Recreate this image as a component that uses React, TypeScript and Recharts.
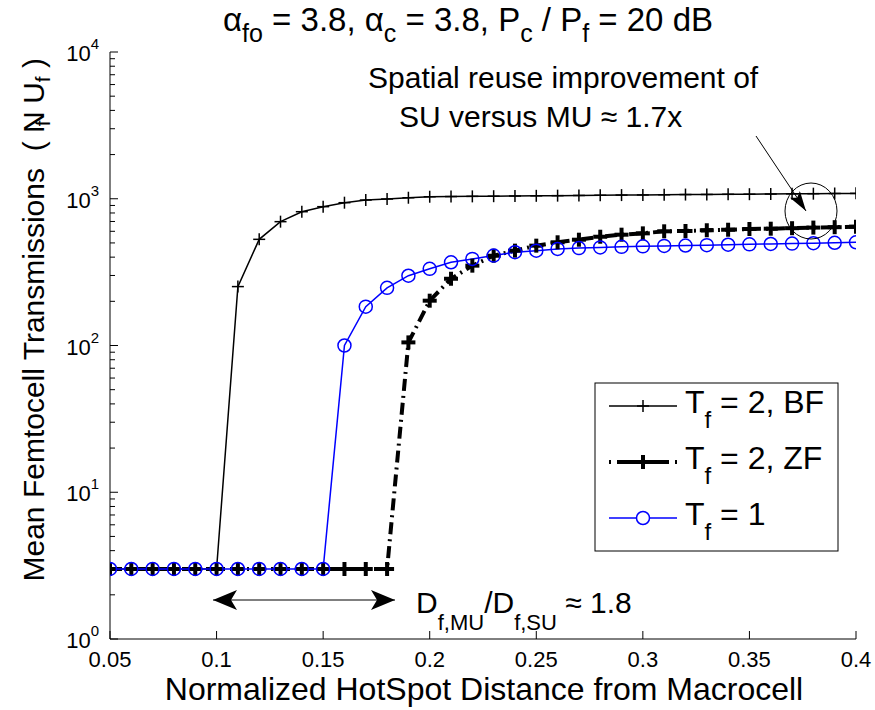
import { LineChart, Line, XAxis, YAxis } from 'recharts';

const FONT = '"Liberation Sans", Arial, Helvetica, sans-serif';

// normalized hotspot distance
const distance = [
  0.05, 0.06, 0.07, 0.08, 0.09, 0.1, 0.11, 0.12, 0.13, 0.14, 0.15, 0.16,
  0.17, 0.18, 0.19, 0.2, 0.21, 0.22, 0.23, 0.24, 0.25, 0.26, 0.27, 0.28,
  0.29, 0.3, 0.31, 0.32, 0.33, 0.34, 0.35, 0.36, 0.37, 0.38, 0.39, 0.4,
];

// Tf = 2, BF
const bfValues = [
  3, 3, 3, 3, 3, 3, 252, 529, 698, 816, 883, 940, 980, 996, 1016, 1032,
  1035, 1038, 1041, 1044, 1047, 1050, 1053, 1056, 1059, 1062, 1065, 1068,
  1070, 1072, 1074, 1077, 1080, 1083, 1086, 1088,
];

// Tf = 2, ZF
const zfValues = [
  3, 3, 3, 3, 3, 3, 3, 3, 3, 3, 3, 3, 3, 3, 105, 202, 285, 350, 409, 443,
  479, 505, 526, 551, 569, 581, 600, 603, 610, 615, 622, 625, 630, 636, 640, 645,
];

// Tf = 1
const suValues = [
  3, 3, 3, 3, 3, 3, 3, 3, 3, 3, 3, 100, 184, 247, 299, 333, 369, 389, 410,
  432, 443, 455, 461, 466, 470, 474, 477, 480, 483, 486, 489, 492, 495, 498,
  501, 505,
];

const xTicks = [0.05, 0.1, 0.15, 0.2, 0.25, 0.3, 0.35, 0.4];
const yDecades = [1, 10, 100, 1000, 10000];
const yMinorSteps = [2, 3, 4, 5, 6, 7, 8, 9];

const yTicks: number[] = [];
yDecades.forEach((d, i) => {
  yTicks.push(d);
  if (i < yDecades.length - 1) yMinorSteps.forEach((m) => yTicks.push(m * d));
});

const data = distance.map((x, i) => ({
  x,
  bf: bfValues[i],
  zf: zfValues[i],
  su: suValues[i],
}));

const Y_GAP = 11;
const X_GAP = 29;
const NB = '\u00a0';

function LeftTick(props: any) {
  const { x, y, payload } = props;
  const axisX = x + Y_GAP;
  const major = yDecades.includes(payload.value);
  const exp = Math.round(Math.log10(payload.value));
  return (
    <g>
      <line x1={axisX} x2={axisX + (major ? 8 : 5)} y1={y} y2={y} stroke="#000" />
      {major && (
        <text x={x} y={y + 9} textAnchor="end" fontSize={22} fontFamily={FONT} fill="#000">
          10<tspan dy={-12} fontSize={15}>{exp}</tspan>
        </text>
      )}
    </g>
  );
}

function RightTick(props: any) {
  const { x, y, payload } = props;
  const major = yDecades.includes(payload.value);
  return <line x1={x} x2={x - (major ? 8 : 5)} y1={y} y2={y} stroke="#000" />;
}

function BottomTick(props: any) {
  const { x, y, payload } = props;
  const axisY = y - X_GAP;
  return (
    <g>
      <line x1={x} x2={x} y1={axisY} y2={axisY - 8} stroke="#000" />
      <text x={x} y={y - 1} textAnchor="middle" fontSize={22} fontFamily={FONT} fill="#000">
        {String(payload.value)}
      </text>
    </g>
  );
}

function TopTick(props: any) {
  const { x, y } = props;
  return <line x1={x} x2={x} y1={y} y2={y + 8} stroke="#000" />;
}

function plusDot(size: number, width: number, name: string) {
  return (p: any) => {
    if (p.cx == null || p.cy == null) return <g key={`${name}-${p.index}`} />;
    return (
      <g key={`${name}-${p.index}`}>
        <line x1={p.cx - size} x2={p.cx + size} y1={p.cy} y2={p.cy} stroke="#000" strokeWidth={width} />
        <line x1={p.cx} x2={p.cx} y1={p.cy - size} y2={p.cy + size} stroke="#000" strokeWidth={width} />
      </g>
    );
  };
}

function circleDot(p: any) {
  if (p.cx == null || p.cy == null) return <g key={`su-${p.index}`} />;
  return <circle key={`su-${p.index}`} cx={p.cx} cy={p.cy} r={6.5} fill="none" stroke="#0000ff" strokeWidth={1.5} />;
}

function Sub({ children, drop = 14, size = 22 }: { children: string; drop?: number; size?: number }) {
  return (
    <>
      <tspan dy={drop} fontSize={size}>{children}</tspan>
      <tspan dy={-drop}>{'\u200b'}</tspan>
    </>
  );
}

function Overlay() {
  const rows = [
    { y: 406, label: `${NB}=${NB}2,${NB}BF` },
    { y: 462, label: `${NB}=${NB}2,${NB}ZF` },
    { y: 518, label: `${NB}=${NB}1` },
  ];
  return (
    <svg width={875} height={710} style={{ position: 'absolute', left: 0, top: 0, pointerEvents: 'none' }}>
      <defs>
        <marker id="head2" markerWidth="24" markerHeight="20" refX="24" refY="10" orient="auto-start-reverse" markerUnits="userSpaceOnUse" viewBox="0 0 24 20">
          <path d="M0,0 L24,10 L0,20 L6,10 Z" fill="#000" />
        </marker>
        <marker id="head3" markerWidth="20" markerHeight="12" refX="20" refY="6" orient="auto" markerUnits="userSpaceOnUse" viewBox="0 0 20 12">
          <path d="M0,0 L20,6 L0,12 L4,6 Z" fill="#000" />
        </marker>
      </defs>
      <g fontFamily={FONT} fill="#000">
        <text x={468} y={31} textAnchor="middle" fontSize={33}>
          {'\u03b1'}<Sub drop={11} size={25}>fo</Sub>{`${NB}=${NB}3.8,${NB}\u03b1`}<Sub drop={11} size={25}>c</Sub>
          {`${NB}=${NB}3.8,${NB}P`}<Sub drop={11} size={25}>c</Sub>{`${NB}/${NB}P`}<Sub drop={11} size={25}>f</Sub>
          {`${NB}=${NB}20${NB}dB`}
        </text>
        <text x={484} y={700} textAnchor="middle" fontSize={32}>
          Normalized HotSpot Distance from Macrocell
        </text>
        <text x={44} y={58} textAnchor="end" fontSize={30} transform="rotate(-90 44 58)">
          {`Mean Femtocell Transmissions${NB}${NB}(${NB}N`}
          <tspan dx={-15} dy={6} fontSize={21}>f</tspan>
          <tspan dy={-6}>{`${NB}${NB}U`}</tspan>
          <tspan dy={6} fontSize={21}>f</tspan>
          <tspan dy={-6}>{`${NB})`}</tspan>
        </text>
        <text x={368} y={88} fontSize={30}>Spatial reuse improvement of</text>
        <text x={399} y={127} fontSize={30}>{'SU versus MU \u2248 1.7x'}</text>
        <text x={416} y={613} fontSize={30}>
          D<Sub drop={17}>f,MU</Sub>{'/D'}<Sub drop={17}>f,SU</Sub>{`${NB}\u2248${NB}1.8`}
        </text>
      </g>
      <line x1={756} y1={136} x2={806} y2={211} stroke="#000" strokeWidth={1} markerEnd="url(#head3)" />
      <ellipse cx={811} cy={211} rx={26} ry={28} fill="none" stroke="#000" strokeWidth={1} />
      <line x1={213} y1={600} x2={395} y2={600} stroke="#000" strokeWidth={1} markerStart="url(#head2)" markerEnd="url(#head2)" />

      <rect x={595} y={383} width={243} height={168} fill="#fff" stroke="#000" strokeWidth={1} />
      <line x1={609} x2={677} y1={rows[0].y} y2={rows[0].y} stroke="#000" strokeWidth={1.5} />
      {plusDot(6, 1.5, 'lg1')({ cx: 643, cy: rows[0].y, index: 0 })}
      <line x1={609} x2={677} y1={rows[1].y} y2={rows[1].y} stroke="#000" strokeWidth={4} strokeDasharray="2 6 52 6 2" />
      {plusDot(7, 4, 'lg2')({ cx: 643, cy: rows[1].y, index: 0 })}
      <line x1={609} x2={677} y1={rows[2].y} y2={rows[2].y} stroke="#0000ff" strokeWidth={1.5} />
      <circle cx={643} cy={rows[2].y} r={6.5} fill="#fff" stroke="#0000ff" strokeWidth={1.5} />
      <g fontFamily={FONT} fill="#000" fontSize={32}>
        {rows.map((r) => (
          <text key={r.label} x={685} y={r.y + 7}>
            T<Sub drop={15} size={24}>f</Sub>{r.label}
          </text>
        ))}
      </g>
    </svg>
  );
}

export default function App() {
  return (
    <div style={{ position: 'absolute', left: 0, top: 0, width: 875, height: 710, background: '#fff' }}>
      <LineChart width={875} height={710} data={data} margin={{ top: 52, right: 19, bottom: 31, left: 10 }}>
        <XAxis
          dataKey="x"
          type="number"
          domain={[0.05, 0.4]}
          ticks={xTicks}
          interval={0}
          height={40}
          tickSize={0}
          tickMargin={X_GAP}
          tick={<BottomTick />}
          axisLine={{ stroke: '#000' }}
          allowDataOverflow
        />
        <XAxis
          xAxisId="top"
          orientation="top"
          type="number"
          domain={[0.05, 0.4]}
          ticks={xTicks}
          interval={0}
          height={0}
          tickSize={0}
          tickMargin={0}
          tick={<TopTick />}
          axisLine={{ stroke: '#000' }}
          allowDataOverflow
        />
        <YAxis
          scale="log"
          type="number"
          domain={[1, 10000]}
          ticks={yTicks}
          interval={0}
          width={100}
          tickSize={0}
          tickMargin={Y_GAP}
          tick={<LeftTick />}
          axisLine={{ stroke: '#000' }}
          allowDataOverflow
        />
        <YAxis
          yAxisId="right"
          orientation="right"
          scale="log"
          type="number"
          domain={[1, 10000]}
          ticks={yTicks}
          interval={0}
          width={0}
          tickSize={0}
          tickMargin={0}
          tick={<RightTick />}
          axisLine={{ stroke: '#000' }}
          allowDataOverflow
        />
        <Line
          type="linear"
          dataKey="bf"
          stroke="#000"
          strokeWidth={1.5}
          dot={plusDot(6, 1.5, 'bf')}
          isAnimationActive={false}
        />
        <Line
          type="linear"
          dataKey="zf"
          stroke="#000"
          strokeWidth={4}
          strokeDasharray="12 5 2 5"
          dot={plusDot(7, 4, 'zf')}
          isAnimationActive={false}
        />
        <Line
          type="linear"
          dataKey="su"
          stroke="#0000ff"
          strokeWidth={1.5}
          dot={circleDot}
          isAnimationActive={false}
        />
      </LineChart>
      <Overlay />
    </div>
  );
}
